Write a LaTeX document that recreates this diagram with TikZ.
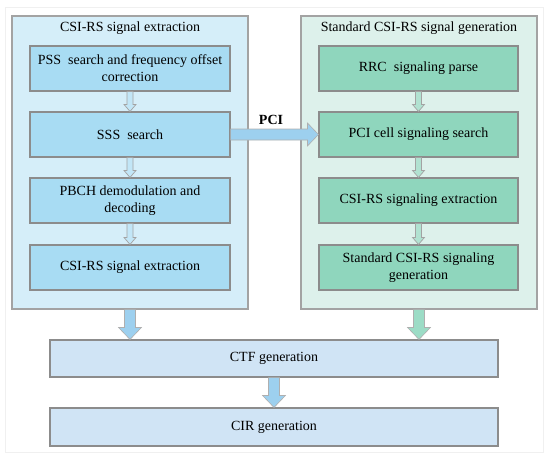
\documentclass[tikz,border=0pt]{standalone}
\usepackage{fontspec}
\setmainfont{LiberationSerif-Regular.ttf}[BoldFont=LiberationSerif-Bold.ttf]
\usetikzlibrary{calc}
\definecolor{lgbg}{HTML}{D5EEF9}
\definecolor{lbox}{HTML}{A8DCF3}
\definecolor{rgbg}{HTML}{DDF1EB}
\definecolor{rbox}{HTML}{8FD6BD}
\definecolor{bbox}{HTML}{D0E4F5}
\definecolor{barrow}{HTML}{9DD0EF}
\definecolor{garrow}{HTML}{9CDCC6}
\definecolor{grpline}{HTML}{A3A3A3}
\definecolor{boxline}{HTML}{8C8C8C}
\tikzset{
  grp/.style={draw=grpline, line width=1.1pt, minimum width=236pt, minimum height=293pt, inner sep=0pt},
  stepbox/.style={draw=boxline, line width=1.1pt, minimum width=200pt, minimum height=45pt, align=center, inner sep=2pt, font=\fontsize{14}{17}\selectfont},
  lstep/.style={stepbox, fill=lbox},
  rstep/.style={stepbox, fill=rbox, minimum width=199pt},
  wide/.style={draw=boxline, line width=1.1pt, fill=bbox, minimum width=448pt, align=center, font=\fontsize{14}{17}\selectfont},
  grptitle/.style={font=\fontsize{14}{17}\selectfont, inner sep=0pt},
  smalll/.style={draw=boxline!80, line width=0.7pt, fill=lbox!70},
  smallr/.style={draw=boxline!80, line width=0.7pt, fill=rbox!70},
  bigb/.style={draw=boxline!70, line width=0.6pt, fill=barrow},
  bigg/.style={draw=boxline!70, line width=0.6pt, fill=garrow},
}
% #1 style, #2 start, #3 end, #4 half shaft, #5 half head, #6 head length
\newcommand\vconn[6]{%
  \path[#1] let \p1=#2, \p2=#3 in
    (\x1-#4,\y1) -- (\x1-#4,\y2+#6) -- (\x1-#5,\y2+#6) -- (\x1,\y2)
    -- (\x1+#5,\y2+#6) -- (\x1+#4,\y2+#6) -- (\x1+#4,\y1) -- cycle;}
\newcommand\hconn[6]{%
  \path[#1] let \p1=#2, \p2=#3 in
    (\x1,\y1+#4) -- (\x2-#6,\y1+#4) -- (\x2-#6,\y1+#5) -- (\x2,\y1)
    -- (\x2-#6,\y1-#5) -- (\x2-#6,\y1-#4) -- (\x1,\y1-#4) -- cycle;}
\begin{document}
\begin{tikzpicture}[x=1pt,y=-1pt]
\useasboundingbox (0,0) rectangle (550,458);
\draw[gray!12, line width=0.8pt] (5,7) rectangle (543,452);
% groups
\node[grp, fill=lgbg] (lg) at (130,162.5) {};
\node[grp, fill=rgbg] (rg) at (419,162.5) {};
\node[grptitle] (lt) at (130,28) {CSI-RS signal extraction};
\node[grptitle] (rt) at (419,28) {Standard CSI-RS signal generation};
% left steps
\node[lstep] (pss) at (130,68.5) {PSS\ \ search and frequency offset\\correction};
\node[lstep] (sss) at (130,134.5) {SSS\ \ search};
\node[lstep] (pbch) at (130,200.5) {PBCH demodulation and\\decoding};
\node[lstep] (csix) at (130,267.5) {CSI-RS signal extraction};
% right steps
\node[rstep] (rrc) at (418.5,68.5) {RRC\ \ signaling parse};
\node[rstep] (pci) at (418.5,134.5) {PCI cell signaling search};
\node[rstep] (csie) at (418.5,200.5) {CSI-RS signaling extraction};
\node[rstep] (std) at (418.5,267.5) {Standard CSI-RS signaling\\generation};
% bottom
\node[wide, minimum height=37pt] (ctf) at (274,358.5) {CTF generation};
\node[wide, minimum height=38pt] (cir) at (274,427) {CIR generation};
% small arrows
\vconn{smalll}{(pss.south)}{(sss.north)}{3pt}{6pt}{7pt}
\vconn{smalll}{(sss.south)}{(pbch.north)}{3pt}{6pt}{7pt}
\vconn{smalll}{(pbch.south)}{(csix.north)}{3pt}{6pt}{7pt}
\vconn{smallr}{(rrc.south)}{(pci.north)}{3pt}{6pt}{7pt}
\vconn{smallr}{(pci.south)}{(csie.north)}{3pt}{6pt}{7pt}
\vconn{smallr}{(csie.south)}{(std.north)}{3pt}{6pt}{7pt}
% big arrows
\vconn{bigb}{(lg.south)}{(lg.south |- ctf.north)}{5.5pt}{11.5pt}{12pt}
\vconn{bigg}{(rg.south)}{(rg.south |- ctf.north)}{5.5pt}{11.5pt}{12pt}
\vconn{bigb}{(ctf.south)}{(cir.north)}{5.5pt}{11.5pt}{12pt}
\hconn{bigb}{(sss.east)}{(pci.west)}{5.5pt}{11.5pt}{11pt}
\node[font=\fontsize{14}{17}\selectfont\bfseries] (pcil) at (271,120) {PCI};
\end{tikzpicture}
\end{document}
